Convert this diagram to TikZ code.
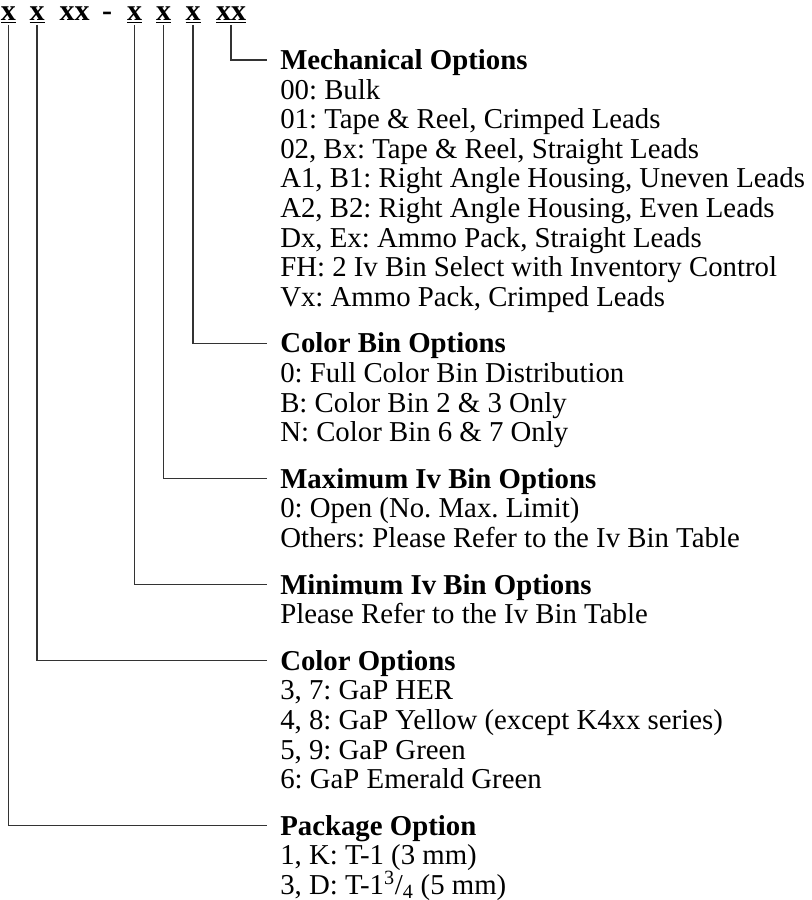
\documentclass[tikz,border=0pt]{standalone}
\usepackage{fontspec}
\setmainfont{Liberation Serif}
\usetikzlibrary{positioning}
\definecolor{ink}{HTML}{000000}
\definecolor{wire}{HTML}{333333}
\frenchspacing
\tikzset{
  every node/.style={text=ink},
  code/.style={font=\fontsize{22.5}{22.2}\selectfont\bfseries,inner sep=0pt,anchor=base},
  digit/.style={code,inner ysep=1.5pt},
  optitle/.style={font=\fontsize{21.6}{22.2}\selectfont\bfseries,anchor=west,inner xsep=9.75pt,inner ysep=0pt,text height=14.3pt,text depth=0pt},
  optlist/.style={font=\fontsize{21.6}{22.2}\selectfont,align=left,inner xsep=9.75pt,inner ysep=0pt},
  wire/.style={draw=wire,line width=1pt},
}

\begin{document}
\begin{tikzpicture}[x=0.75pt,y=-0.75pt]
\useasboundingbox (0,0) rectangle (812,900);

% part number
\node[digit] (pkgx) at (8.5,20) {\underline{x}};
\node[digit] (colx) at (37,20) {\underline{x}};
\node[code] (fixx) at (74.5,20) {xx};
\node[code] (dash) at (107,20) {-};
\node[digit] (minx) at (134.5,20) {\underline{x}};
\node[digit] (maxx) at (163.5,20) {\underline{x}};
\node[digit] (binx) at (193,20) {\underline{x}};
\node[digit] (mechx) at (231,20) {\underline{xx}};

% option blocks (list base = baseline of its last line)
\node[optitle] (mech) at (267,60) {Mechanical Options};
\node[optlist,below=177.6pt of mech.base west,anchor=base west] (mechl)
{00: Bulk\\01: Tape \& Reel, Crimped Leads\\02, Bx: Tape \& Reel, Straight Leads\\A1, B1: Right Angle Housing, Uneven Leads\\A2, B2: Right Angle Housing, Even Leads\\Dx, Ex: Ammo Pack, Straight Leads\\FH: 2 Iv Bin Select with Inventory Control\\Vx: Ammo Pack, Crimped Leads};

\node[optitle] (cbin) at (267,343.4) {Color Bin Options};
\node[optlist,below=66.6pt of cbin.base west,anchor=base west] (cbinl)
{0: Full Color Bin Distribution\\B: Color Bin 2 \& 3 Only\\N: Color Bin 6 \& 7 Only};

\node[optitle] (maxiv) at (267,478.8) {Maximum Iv Bin Options};
\node[optlist,below=44.4pt of maxiv.base west,anchor=base west] (maxivl)
{0: Open (No. Max. Limit)\\Others: Please Refer to the Iv Bin Table};

\node[optitle] (miniv) at (267,584.6) {Minimum Iv Bin Options};
\node[optlist,below=22.2pt of miniv.base west,anchor=base west] (minivl)
{Please Refer to the Iv Bin Table};

\node[optitle] (color) at (267,660.8) {Color Options};
\node[optlist,below=88.8pt of color.base west,anchor=base west] (colorl)
{3, 7: GaP HER\\4, 8: GaP Yellow (except K4xx series)\\5, 9: GaP Green\\6: GaP Emerald Green};

\node[optitle] (pkg) at (267,825.8) {Package Option};
\node[optlist,below=44.4pt of pkg.base west,anchor=base west] (pkgl)
{1, K: T-1 (3 mm)\\3, D: T-1\textsuperscript{3}/\textsubscript{4} (5 mm)};

% leaders
\draw[wire] (mechx.south) |- (mech.west);
\draw[wire] (binx.south) |- (cbin.west);
\draw[wire] (maxx.south) |- (maxiv.west);
\draw[wire] (minx.south) |- (miniv.west);
\draw[wire] (colx.south) |- (color.west);
\draw[wire] (pkgx.south) |- (pkg.west);

\end{tikzpicture}
\end{document}
